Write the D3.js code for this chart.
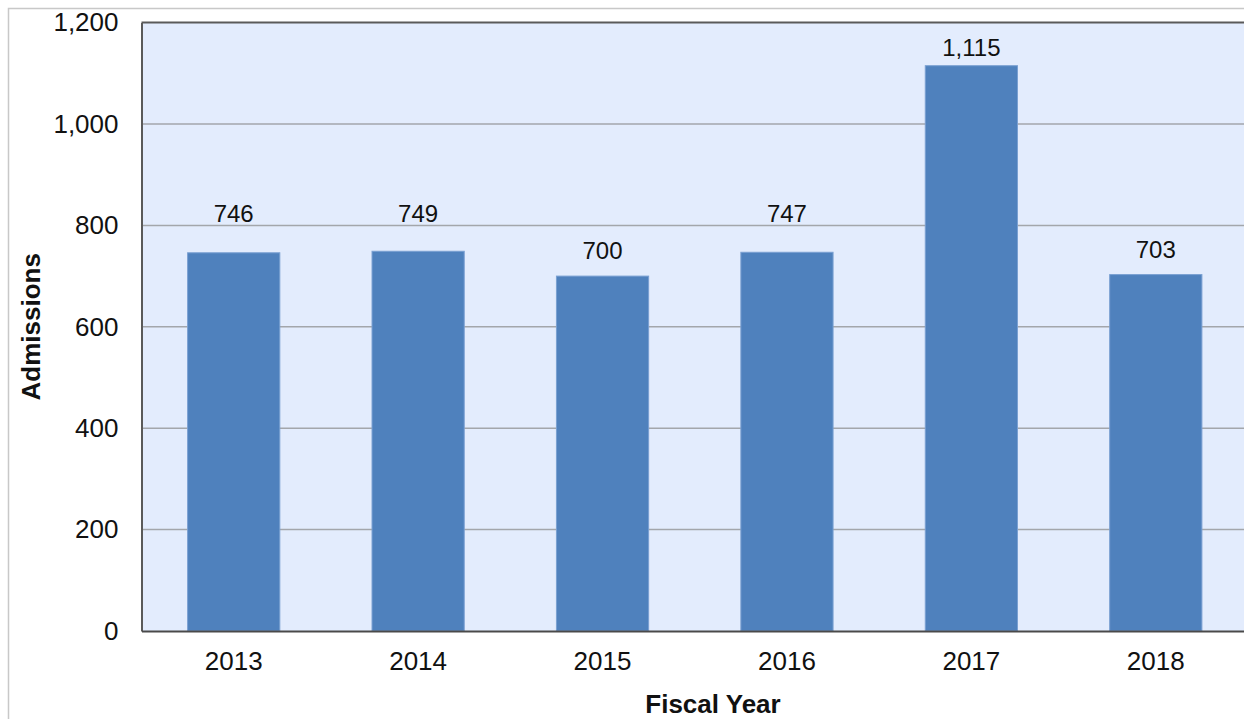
<!DOCTYPE html>
<html lang="en">
<head>
  <meta charset="utf-8">
  <title>Admissions by Fiscal Year</title>
  <script src="https://d3js.org/d3.v7.min.js"></script>
  <style>
    body { margin: 0; background: #fff; }
    svg { display: block; font-family: "Liberation Sans", Arial, sans-serif; }
  </style>
</head>
<body>
  <div id="chart"></div>
<script>
  // chart data
  var years = ["2013", "2014", "2015", "2016", "2017", "2018"];
  var admissions = [746, 749, 700, 747, 1115, 703];
  var yTicks = [0, 200, 400, 600, 800, 1000, 1200];

  var width = 1244;
  var height = 719;
  var plot = { left: 141.5, right: 1248, top: 22.6, bottom: 631 };

  var svg = d3.select("#chart")
    .append("svg")
    .attr("width", width)
    .attr("height", height);

  // outer chart frame (runs off the right/bottom edges)
  svg.append("rect")
    .attr("x", 8.5)
    .attr("y", 8.5)
    .attr("width", width + 20)
    .attr("height", height + 20)
    .attr("fill", "#fff")
    .attr("stroke", "#c8c8c8")
    .attr("stroke-width", 1.5);

  var x = d3.scaleBand()
    .domain(years)
    .range([plot.left, plot.right])
    .paddingInner(0.5)
    .paddingOuter(0.25);

  var y = d3.scaleLinear()
    .domain([0, 1200])
    .range([plot.bottom, plot.top]);

  // plot background
  svg.append("rect")
    .attr("x", plot.left)
    .attr("y", plot.top)
    .attr("width", plot.right - plot.left)
    .attr("height", plot.bottom - plot.top)
    .attr("fill", "#e3ecfd");

  // gridlines
  var gridVals = yTicks.filter(function(d) { return d > 0 && d < 1200; });
  svg.append("g")
    .selectAll("line")
    .data(gridVals)
    .enter()
    .append("line")
    .attr("x1", plot.left)
    .attr("x2", plot.right)
    .attr("y1", function(d) { return y(d); })
    .attr("y2", function(d) { return y(d); })
    .attr("stroke", "#a3a6ab")
    .attr("stroke-width", 1.5);

  // top border of plot area
  svg.append("line")
    .attr("x1", plot.left)
    .attr("x2", plot.right)
    .attr("y1", y(1200))
    .attr("y2", y(1200))
    .attr("stroke", "#5a5a5a")
    .attr("stroke-width", 2);

  // bars
  var data = years.map(function(yr, i) {
    return { year: yr, value: admissions[i] };
  });

  svg.append("g")
    .selectAll(".bar")
    .data(data)
    .enter()
    .append("rect")
    .attr("class", "bar")
    .attr("x", function(d) { return x(d.year); })
    .attr("y", function(d) { return y(d.value); })
    .attr("width", x.bandwidth())
    .attr("height", function(d) { return y(0) - y(d.value); })
    .attr("fill", "#4f81bd")
    .attr("stroke", "#7aa0d2")
    .attr("stroke-width", 1);

  // label baseline: sit above the bar, hop over a gridline it would cross,
  // and stay inside the plot area
  function labelY(v) {
    var base = y(v) - 17;
    gridVals.forEach(function(g) {
      var gy = y(g);
      if (gy > base - 18 && gy < base) base = gy - 3.5;
    });
    return Math.max(base, plot.top + 33);
  }

  // value labels
  svg.append("g")
    .selectAll("text")
    .data(data)
    .enter()
    .append("text")
    .attr("x", function(d) { return x(d.year) + x.bandwidth() / 2; })
    .attr("y", function(d) { return labelY(d.value); })
    .attr("text-anchor", "middle")
    .attr("font-size", "24px")
    .attr("fill", "#111")
    .text(function(d) { return d3.format(",")(d.value); });

  // axes
  var yAxis = svg.append("g")
    .attr("transform", "translate(" + plot.left + ",0)")
    .call(d3.axisLeft(y).tickValues(yTicks).tickFormat(d3.format(",")).tickSize(0).tickPadding(23));
  yAxis.select(".domain").attr("stroke", "#5a5a5a").attr("stroke-width", 2);
  yAxis.selectAll("text")
    .attr("font-size", "26px")
    .attr("font-family", "Liberation Sans, Arial, sans-serif")
    .attr("fill", "#111");

  var xAxis = svg.append("g")
    .attr("transform", "translate(0," + plot.bottom + ")")
    .call(d3.axisBottom(x).tickSize(0).tickPadding(21));
  xAxis.select(".domain").attr("stroke", "#4a4a4a").attr("stroke-width", 2);
  xAxis.selectAll("text")
    .attr("font-size", "26px")
    .attr("font-family", "Liberation Sans, Arial, sans-serif")
    .attr("fill", "#111");

  // axis titles
  svg.append("text")
    .attr("x", 713)
    .attr("y", 713)
    .attr("text-anchor", "middle")
    .attr("font-size", "26px")
    .attr("font-weight", "bold")
    .attr("fill", "#111")
    .text("Fiscal Year");

  svg.append("text")
    .attr("transform", "translate(40," + ((plot.top + plot.bottom) / 2) + ") rotate(-90)")
    .attr("text-anchor", "middle")
    .attr("font-size", "26px")
    .attr("font-weight", "bold")
    .attr("fill", "#111")
    .text("Admissions");
</script>
</body>
</html>
